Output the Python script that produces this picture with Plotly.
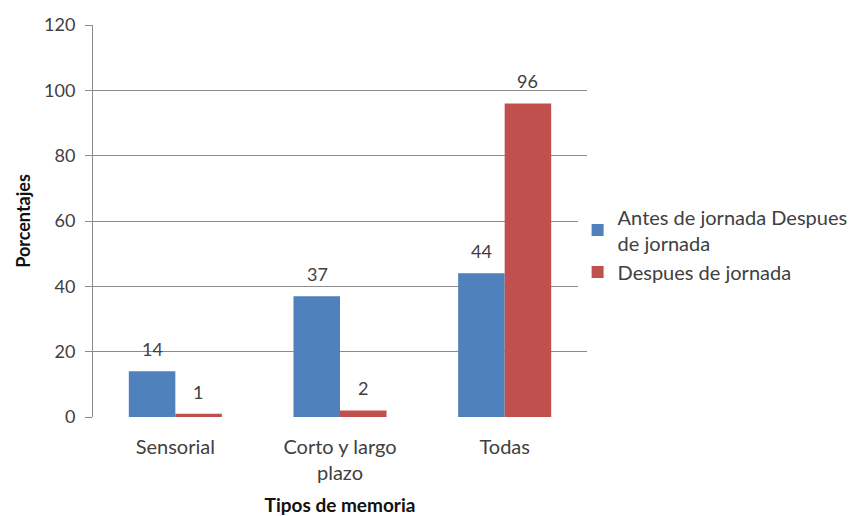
import plotly.graph_objects as go

categories = ["Sensorial", "Corto y largo<br>plazo", "Todas"]
antes = [14, 37, 44]
despues = [1, 2, 96]
series_names = ["Antes de jornada Despues<br>de jornada", "Despues de jornada"]
y_ticks = [0, 20, 40, 60, 80, 100, 120]

FONT = "Lato, 'Open Sans', sans-serif"
TXT = "#404040"

fig = go.Figure()
fig.add_trace(go.Bar(x=categories, y=antes, name=series_names[0],
                     marker=dict(color="#4F81BD", line=dict(width=0))))
fig.add_trace(go.Bar(x=categories, y=despues, name=series_names[1],
                     marker=dict(color="#C0504D", line=dict(width=0))))

for vals, shift in ((antes, -23), (despues, 23)):
    for c, v in zip(categories, vals):
        fig.add_annotation(x=c, y=v, text=str(v), showarrow=False,
                           xshift=shift, yshift=22, yanchor="middle",
                           font=dict(family=FONT, size=18, color=TXT))

fig.update_layout(
    width=853, height=516,
    margin=dict(l=93, r=266, t=25, b=99, autoexpand=False),
    paper_bgcolor="white", plot_bgcolor="white",
    barmode="group", bargap=0.435, bargroupgap=0,
    font=dict(family=FONT, size=18, color=TXT),
    legend=dict(x=0.981, y=0.44, xanchor="left", yanchor="middle",
                font=dict(family=FONT, size=20, color=TXT),
                tracegroupgap=8, itemwidth=30),
    xaxis=dict(
        showgrid=False, showline=False, ticks="",
        ticklabelstandoff=16,
        tickfont=dict(family=FONT, size=20, color=TXT),
        title=dict(text="<b>Tipos de memoria</b>", standoff=16,
                   font=dict(family=FONT, size=19, color="#111111")),
    ),
    yaxis=dict(
        range=[0, 120], tickvals=y_ticks, showgrid=True,
        gridcolor="#8c8c8c", gridwidth=1,
        showline=True, linecolor="#8c8c8c", linewidth=1,
        ticks="outside", ticklen=7, tickcolor="#8c8c8c",
        ticklabelstandoff=6,
        zeroline=False,
        tickfont=dict(family=FONT, size=18, color=TXT),
        title=dict(text="<b>Porcentajes</b>", standoff=8,
                   font=dict(family=FONT, size=18, color="#111111")),
    ),
)

fig.write_html("out.html")
